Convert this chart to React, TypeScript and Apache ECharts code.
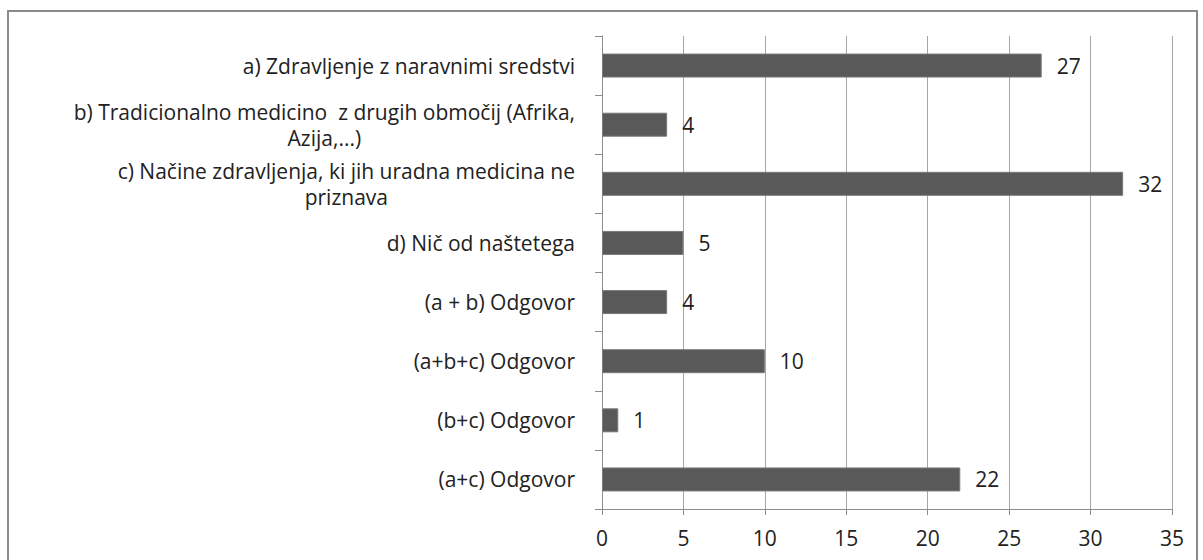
import React, { useEffect, useRef } from "react";
import * as echarts from "echarts";

const categories: string[] = [
  "a) Zdravljenje z naravnimi sredstvi",
  "b) Tradicionalno medicino  z drugih območij (Afrika,\nAzija,...)",
  "c) Načine zdravljenja, ki jih uradna medicina ne\npriznava",
  "d) Nič od naštetega",
  "(a + b) Odgovor",
  "(a+b+c) Odgovor",
  "(b+c) Odgovor",
  "(a+c) Odgovor",
];
const values: number[] = [27, 4, 32, 5, 4, 10, 1, 22];
const xTicks = { min: 0, max: 35, interval: 5 };

const FONT = "'Open Sans', sans-serif";
const FS = 21;
const LH = 26;

export default function App() {
  const ref = useRef<HTMLDivElement>(null);
  useEffect(() => {
    if (!ref.current) return;
    const chart = echarts.init(ref.current, null, { renderer: "svg" });
    chart.setOption({
      animation: false,
      backgroundColor: "#ffffff",
      graphic: [
        {
          type: "rect",
          shape: { x: 8, y: 11, width: 1189, height: 600 },
          style: { fill: "none", stroke: "#8a8a8a", lineWidth: 2 },
          silent: true,
        },
      ],
      grid: { left: 602, right: 31, top: 36, bottom: 51, containLabel: false },
      xAxis: {
        type: "value",
        min: xTicks.min,
        max: xTicks.max,
        interval: xTicks.interval,
        axisLine: { show: true, lineStyle: { color: "#8c8c8c", width: 1 } },
        axisTick: { show: true, length: 6, lineStyle: { color: "#8c8c8c" } },
        splitLine: { show: true, lineStyle: { color: "#a6a6a6", width: 1 } },
        axisLabel: { color: "#222", fontFamily: FONT, fontSize: FS, margin: 18 },
      },
      yAxis: {
        type: "category",
        inverse: true,
        data: categories,
        axisLine: { show: true, lineStyle: { color: "#8c8c8c", width: 1 } },
        axisTick: { show: true, length: 7, inside: false, lineStyle: { color: "#8c8c8c" } },
        axisLabel: {
          margin: 27,
          color: "#222",
          fontFamily: FONT,
          fontSize: FS,
          align: "right",
          lineHeight: LH,
          formatter: (v: string) =>
            v
              .split("\n")
              .map((l) => `{c|${l}}`)
              .join("\n"),
          rich: {
            c: { align: "center", fontFamily: FONT, fontSize: FS, color: "#222", lineHeight: LH },
          },
        },
      },
      series: [
        {
          type: "bar",
          data: values,
          barWidth: 24,
          itemStyle: { color: "#595959", borderColor: "#7a7a7a", borderWidth: 1 },
          label: {
            show: true,
            position: "right",
            distance: 15,
            color: "#222",
            fontFamily: FONT,
            fontSize: FS,
          },
        },
      ],
    });
    return () => chart.dispose();
  }, []);
  return (
    <div
      ref={ref}
      style={{ position: "absolute", left: 0, top: 0, width: 1203, height: 560 }}
    />
  );
}
